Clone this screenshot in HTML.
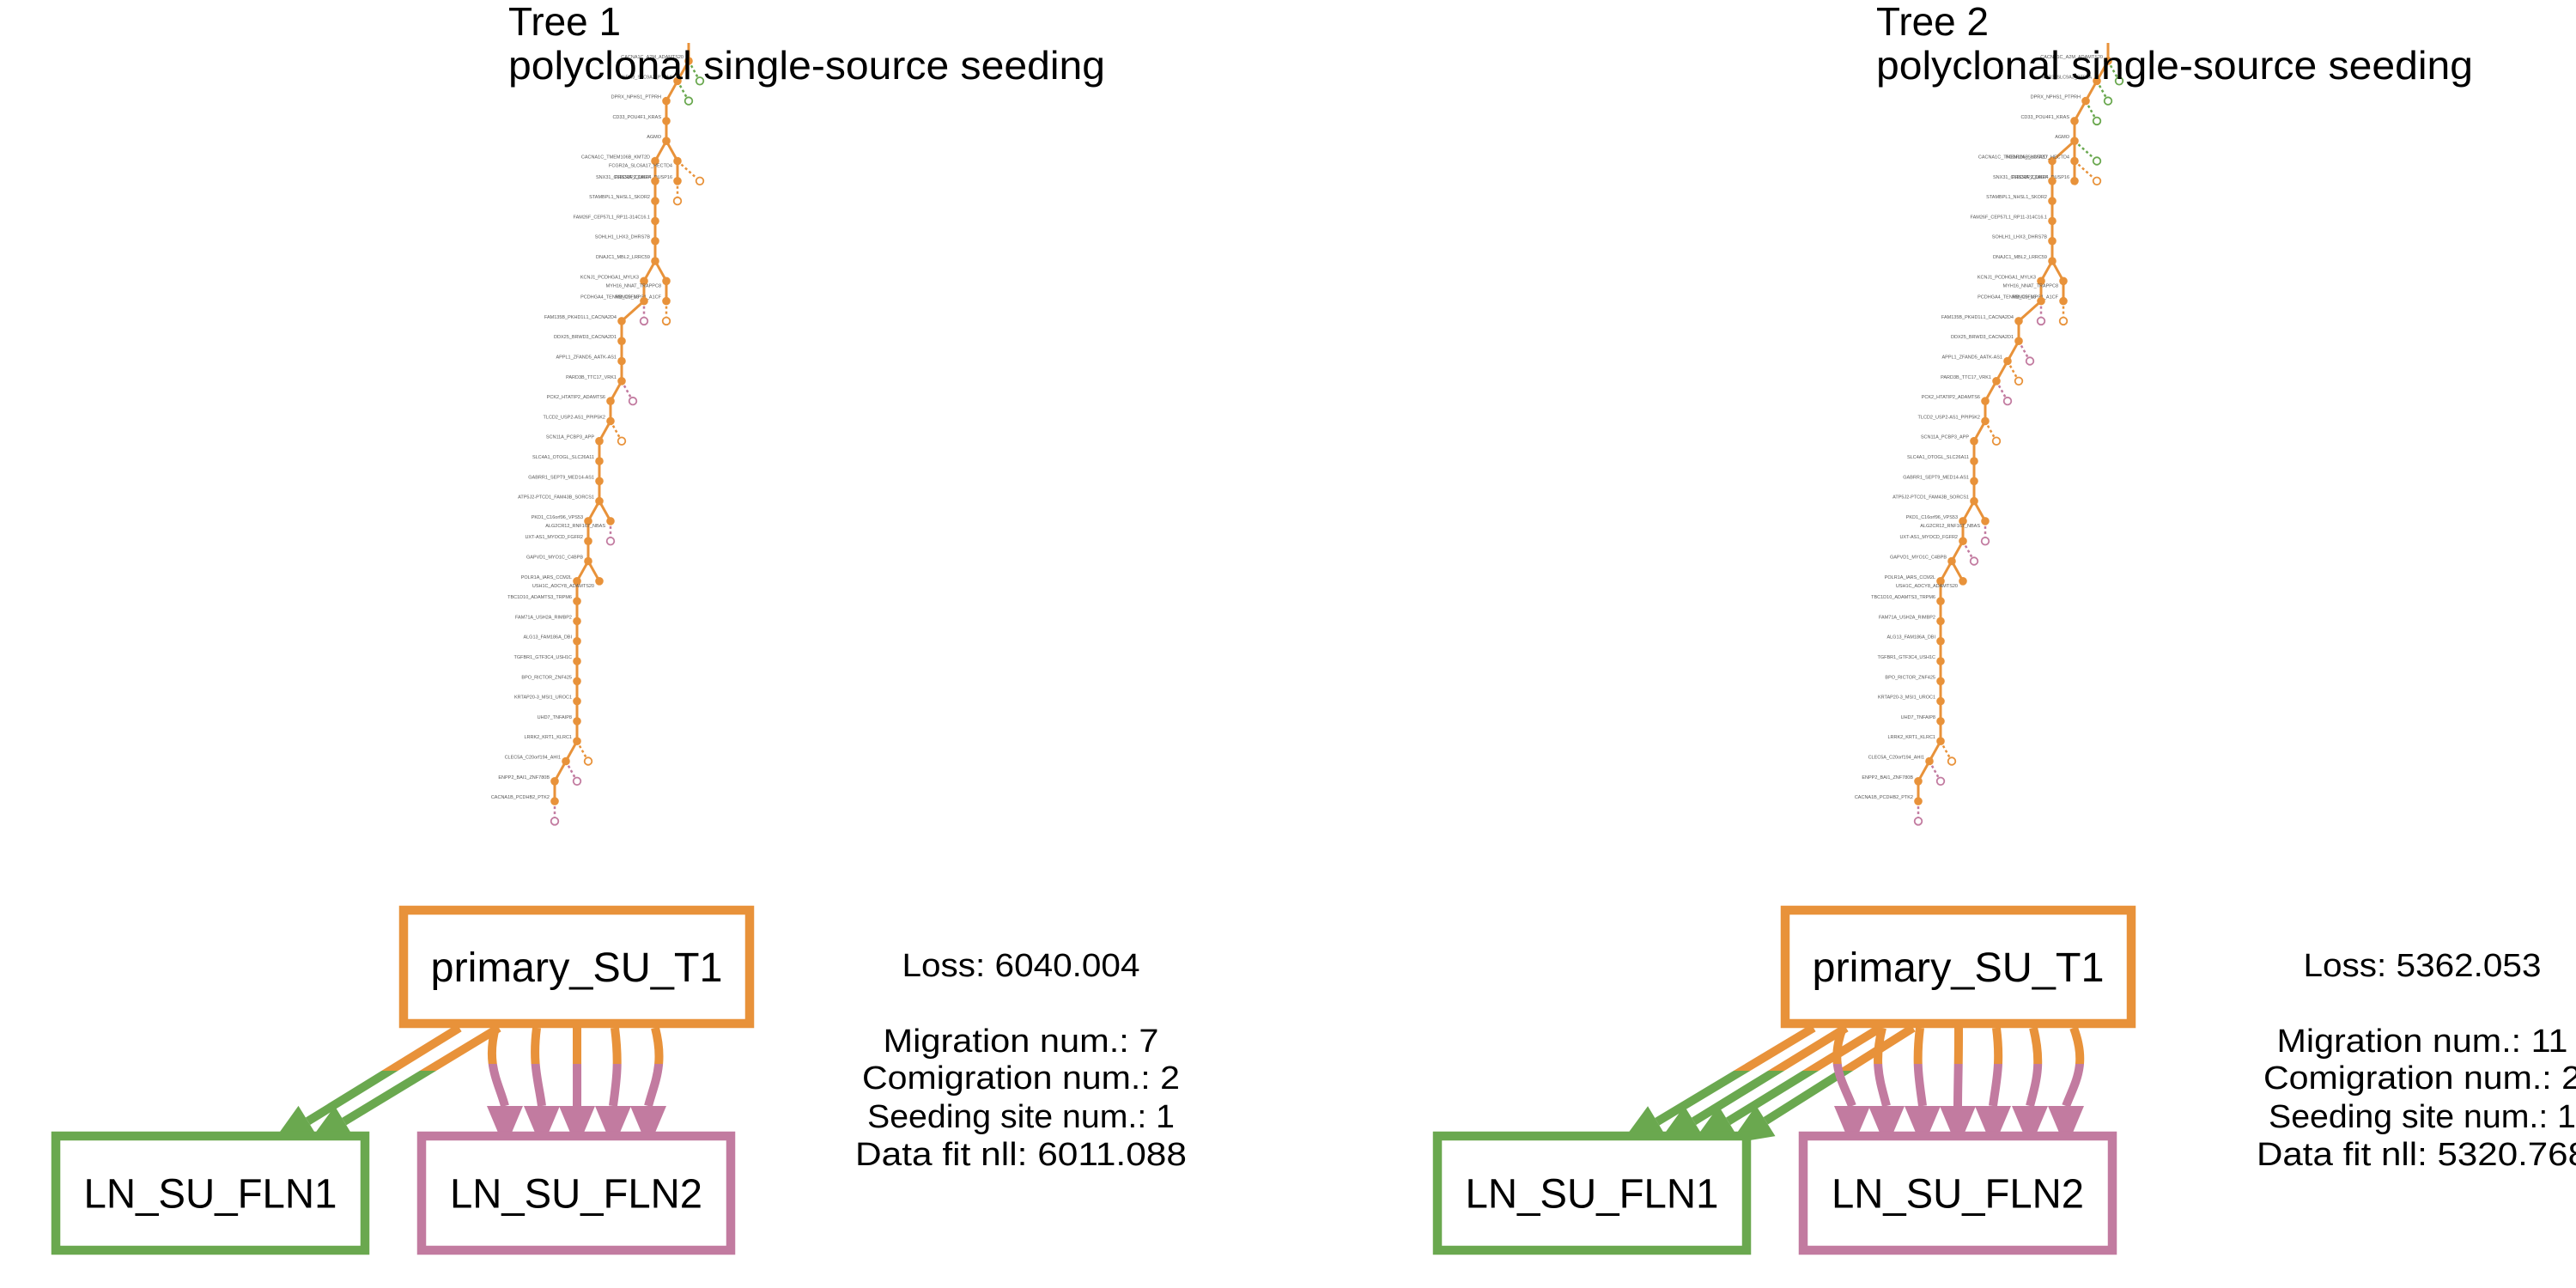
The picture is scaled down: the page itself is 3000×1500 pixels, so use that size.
<!DOCTYPE html>
<html><head><meta charset="utf-8">
<style>
html,body{margin:0;padding:0;background:#fff;}
svg{display:block;font-family:"Liberation Sans",sans-serif;}
</style></head>
<body>
<svg id="fig" width="3000" height="1500" viewBox="0 0 3000 1500" xmlns="http://www.w3.org/2000/svg">
<defs>
<clipPath id="clipTop1"><rect x="0" y="0" width="3000" height="1247"/></clipPath>
<clipPath id="clipBot1"><rect x="0" y="1247" width="3000" height="300"/></clipPath>
<clipPath id="clipTopP"><rect x="0" y="0" width="3000" height="1239"/></clipPath>
<clipPath id="clipBotP"><rect x="0" y="1239" width="3000" height="300"/></clipPath>
</defs>
<g id="tree1"></g>
<g id="tree2"></g>
</svg>
<script>
const ORANGE='#E8923A', GREEN='#6AA84F', PINK='#C27BA0';
const NS='http://www.w3.org/2000/svg';
const DX=13, DY=23.3, Y0=71;

// ---- tree data: [col, depth, parentIndex, type, label] ----
const tree1Nodes=[
[0,0,-1,'f','CACNA1C_A2M_ADAMTS20'],
[-1,1,0,'f','NPR3_SLC9A3_PTF1A'],
[1,1,0,'g',''],
[-2,2,1,'f','DPRX_NPHS1_PTPRH'],
[0,2,1,'g',''],
[-2,3,3,'f','CD33_POU4F1_KRAS'],
[-2,4,5,'f','AGMO'],
[-3,5,6,'f','CACNA1C_TMEM106B_KMT2D'],
[-1,5,6,'f','FCGR2A_SLC6A17_HECTD4'],
[-1,6,8,'f','PRSS3P2_UBR4_DUSP16'],
[1,6,8,'o',''],
[-1,7,9,'o',''],
[-3,6,7,'f','SNX31_CLEC4A_CDH17'],
[-3,7,12,'f','STAMBPL1_NHSL1_SKOR2'],
[-3,8,13,'f','FAM26F_CEP57L1_RP11-314C16.1'],
[-3,9,14,'f','SOHLH1_LHX3_DHRS7B'],
[-3,10,15,'f','DNAJC1_MBL2_LRRC59'],
[-4,11,16,'f','KCNJ1_PCDHGA1_MYLK3'],
[-2,11,16,'f','MYH16_NNAT_TRAPPC8'],
[-2,12,18,'f','RBM20_MPS1_A1CF'],
[-2,13,19,'o',''],
[-4,12,17,'f','PCDHGA4_TENM2_C5F18'],
[-4,13,21,'p',''],
[-6,13,21,'f','FAM135B_PKHD1L1_CACNA2D4'],
[-6,14,23,'f','DDX25_BRWD3_CACNA2D1'],
[-6,15,24,'f','APPL1_ZFAND5_AATK-AS1'],
[-6,16,25,'f','PARD3B_TTC17_VRK1'],
[-5,17,26,'p',''],
[-7,17,26,'f','PCK2_HTATIP2_ADAMTS6'],
[-7,18,28,'f','TLCD2_USP2-AS1_PPIP5K2'],
[-6,19,29,'o',''],
[-8,19,29,'f','SCN11A_PCBP3_APP'],
[-8,20,31,'f','SLC4A1_OTOGL_SLC26A11'],
[-8,21,32,'f','GABRR1_SEPT9_MED14-AS1'],
[-8,22,33,'f','ATP5J2-PTCD1_FAM43B_SORCS1'],
[-9,23,34,'f','PKD1_C16orf96_VPS53'],
[-7,23,34,'f','ALG2CR12_RNF167_NBAS'],
[-7,24,36,'p',''],
[-9,24,35,'f','UXT-AS1_MYOCD_FGFR2'],
[-9,25,38,'f','GAPVD1_MYO1C_C4BPB'],
[-10,26,39,'f','POLR1A_IARS_CCM2L'],
[-8,26,39,'f','USH1C_ADCY8_ADAMTS20'],
[-10,27,40,'f','TBC1D10_ADAMTS3_TRPM6'],
[-10,28,42,'f','FAM71A_USH2A_RIMBP2'],
[-10,29,43,'f','ALG13_FAM186A_DBI'],
[-10,30,44,'f','TGFBR1_GTF3C4_USH1C'],
[-10,31,45,'f','BPO_RICTOR_ZNF425'],
[-10,32,46,'f','KRTAP20-3_MSI1_UROC1'],
[-10,33,47,'f','UHD7_TNFAIP8'],
[-10,34,48,'f','LRRK2_KRT1_KLRC1'],
[-9,35,49,'o',''],
[-11,35,49,'f','CLEC5A_C20orf194_AHI1'],
[-10,36,51,'p',''],
[-12,36,51,'f','ENPP2_BAI1_ZNF780B'],
[-12,37,53,'f','CACNA1B_PCDHB2_PTK2'],
[-12,38,54,'p','']
];
const tree2Nodes=[
[0,0,-1,'f','CACNA1C_A2M_ADAMTS20'],
[-1,1,0,'f','NPR3_SLC9A3_PTF1A'],
[1,1,0,'g',''],
[-2,2,1,'f','DPRX_NPHS1_PTPRH'],
[0,2,1,'g',''],
[-3,3,3,'f','CD33_POU4F1_KRAS'],
[-1,3,3,'g',''],
[-3,4,5,'f','AGMO'],
[-5,5,7,'f','CACNA1C_TMEM106B_KMT2D'],
[-3,5,7,'f','FCGR2A_SLC6A17_HECTD4'],
[-1,5,7,'g',''],
[-3,6,9,'f','PRSS3P2_UBR4_DUSP16'],
[-1,6,9,'o',''],
[-5,6,8,'f','SNX31_CLEC4A_CDH17'],
[-5,7,13,'f','STAMBPL1_NHSL1_SKOR2'],
[-5,8,14,'f','FAM26F_CEP57L1_RP11-314C16.1'],
[-5,9,15,'f','SOHLH1_LHX3_DHRS7B'],
[-5,10,16,'f','DNAJC1_MBL2_LRRC59'],
[-6,11,17,'f','KCNJ1_PCDHGA1_MYLK3'],
[-4,11,17,'f','MYH16_NNAT_TRAPPC8'],
[-4,12,19,'f','RBM20_MPS1_A1CF'],
[-4,13,20,'o',''],
[-6,12,18,'f','PCDHGA4_TENM2_C5F18'],
[-6,13,22,'p',''],
[-8,13,22,'f','FAM135B_PKHD1L1_CACNA2D4'],
[-8,14,24,'f','DDX25_BRWD3_CACNA2D1'],
[-7,15,25,'p',''],
[-9,15,25,'f','APPL1_ZFAND5_AATK-AS1'],
[-8,16,27,'o',''],
[-10,16,27,'f','PARD3B_TTC17_VRK1'],
[-9,17,29,'p',''],
[-11,17,29,'f','PCK2_HTATIP2_ADAMTS6'],
[-11,18,31,'f','TLCD2_USP2-AS1_PPIP5K2'],
[-10,19,32,'o',''],
[-12,19,32,'f','SCN11A_PCBP3_APP'],
[-12,20,34,'f','SLC4A1_OTOGL_SLC26A11'],
[-12,21,35,'f','GABRR1_SEPT9_MED14-AS1'],
[-12,22,36,'f','ATP5J2-PTCD1_FAM43B_SORCS1'],
[-13,23,37,'f','PKD1_C16orf96_VPS53'],
[-11,23,37,'f','ALG2CR12_RNF167_NBAS'],
[-11,24,39,'p',''],
[-13,24,38,'f','UXT-AS1_MYOCD_FGFR2'],
[-12,25,41,'p',''],
[-14,25,41,'f','GAPVD1_MYO1C_C4BPB'],
[-15,26,43,'f','POLR1A_IARS_CCM2L'],
[-13,26,43,'f','USH1C_ADCY8_ADAMTS20'],
[-15,27,44,'f','TBC1D10_ADAMTS3_TRPM6'],
[-15,28,46,'f','FAM71A_USH2A_RIMBP2'],
[-15,29,47,'f','ALG13_FAM186A_DBI'],
[-15,30,48,'f','TGFBR1_GTF3C4_USH1C'],
[-15,31,49,'f','BPO_RICTOR_ZNF425'],
[-15,32,50,'f','KRTAP20-3_MSI1_UROC1'],
[-15,33,51,'f','UHD7_TNFAIP8'],
[-15,34,52,'f','LRRK2_KRT1_KLRC1'],
[-14,35,53,'o',''],
[-16,35,53,'f','CLEC5A_C20orf194_AHI1'],
[-15,36,55,'p',''],
[-17,36,55,'f','ENPP2_BAI1_ZNF780B'],
[-17,37,57,'f','CACNA1B_PCDHB2_PTK2'],
[-17,38,58,'p','']
];

// ---- migration graph data ----
const tree1GreenStart=[535,581];
const tree1GreenTip=[316,358];
const tree1PinkStart=[577,625,672,716,763];
const tree1PinkTip=[588,631,672,714,755];
const tree2GreenStart=[2112,2150,2190,2228];
const tree2GreenTip=[1887,1930,1970,2014];
const tree2PinkStart=[2146,2192,2236,2281,2325,2368,2415];
const tree2PinkTip=[2157,2197,2239,2280,2321,2364,2406];
const tree1Stats=['Loss: 6040.004','Migration num.: 7','Comigration num.: 2','Seeding site num.: 1','Data fit nll: 6011.088'];
const tree2Stats=['Loss: 5362.053','Migration num.: 11','Comigration num.: 2','Seeding site num.: 1','Data fit nll: 5320.768'];

function mk(tag,attrs,parent){const e=document.createElementNS(NS,tag);for(const k in attrs)e.setAttribute(k,attrs[k]);parent.appendChild(e);return e;}
const colorOf={f:ORANGE,o:ORANGE,g:GREEN,p:PINK};

function drawTree(g,nodes,x0){
  const px=n=>x0+n[0]*DX, py=n=>Y0+n[1]*DY;
  const eg=mk('g',{},g);
  
  
  const root=mk('line',{x1:x0,y1:Y0-21,x2:x0,y2:Y0,stroke:ORANGE,'stroke-width':3},eg);
  
  
  nodes.forEach(n=>{
    if(n[2]<0)return;
    const p=nodes[n[2]];
    const hollow=n[3]!=='f';
    const l=mk('line',{x1:px(p),y1:py(p),x2:px(n),y2:py(n),stroke:hollow?colorOf[n[3]]:ORANGE,'stroke-width':hollow?2.5:3},eg);
    if(hollow)l.setAttribute('stroke-dasharray','3,3');
    
    
  });
  nodes.forEach(n=>{
    const hollow=n[3]!=='f';
    const c=mk('circle',{cx:px(n),cy:py(n),r:hollow?4.3:4.8,fill:hollow?'#fff':ORANGE,stroke:colorOf[n[3]],'stroke-width':hollow?1.8:0},g);
    
    
    if(n[4]){
      const p=n[2]>=0?nodes[n[2]]:null;
      const right=p&&n[0]>p[0]&&nodes.some(m=>m[2]===n[2]&&m[0]<n[0]&&m[3]==='f');
      const t=mk('text',{x:px(n)-6,y:py(n)+(right?7:-3),'font-size':5.5,fill:'#555','text-anchor':'end'},g);
      t.textContent=n[4];
      
      
    }
  });
}

function box(g,x,y,w,h,color,label,tl,name){
  const r=mk('rect',{x:x,y:y,width:w,height:h,fill:'#fff',stroke:color,'stroke-width':10.5},g);
  
  
  const t=mk('text',{x:x+w/2,y:y+h/2+17,'font-size':48,'text-anchor':'middle',textLength:tl,lengthAdjust:'spacingAndGlyphs',fill:'#000'},g);
  t.textContent=label;
  
  
}

function arrowHead(g,bx,by,tx,ty,color){
  const dx=tx-bx,dy=ty-by,L=Math.hypot(dx,dy),ux=dx/L,uy=dy/L,w=21;
  const p=mk('polygon',{points:`${tx},${ty} ${bx-uy*w},${by+ux*w} ${bx+uy*w},${by-ux*w}`,fill:color},g);
  
  
}

function migration(g,gs,gt,ps,pt,cx){
  const Y1=1197, TIPG=1332, TIPP=1338, AL=50;
  gs.forEach((sx,i)=>{
    const tx=gt[i],dx=tx-sx,dy=TIPG-Y1,L=Math.hypot(dx,dy);
    const bx=tx-dx/L*AL, by=TIPG-dy/L*AL;
    const d=`M${sx},${Y1} L${bx},${by}`;
    const a=mk('path',{d:d,stroke:ORANGE,'stroke-width':10,fill:'none','clip-path':'url(#clipTop1)'},g);
    
    
    const b=mk('path',{d:d,stroke:GREEN,'stroke-width':10,fill:'none','clip-path':'url(#clipBot1)'},g);
    
    
    arrowHead(g,bx,by,tx,TIPG,GREEN);
  });
  ps.forEach((sx,i)=>{
    const tx=pt[i],by=TIPP-AL, ctrl=sx+(sx-cx)*0.12;
    const d=`M${sx},${Y1} C${ctrl},1240 ${tx+(sx-cx)*0.08},1260 ${tx},${by}`;
    const a=mk('path',{d:d,stroke:ORANGE,'stroke-width':10,fill:'none','clip-path':'url(#clipTopP)'},g);
    
    
    const b=mk('path',{d:d,stroke:PINK,'stroke-width':10,fill:'none','clip-path':'url(#clipBotP)'},g);
    
    
    arrowHead(g,tx,by,tx,TIPP,PINK);
  });
}

function stats(g,lines,cx){
  const ys=[1137,1225,1268,1313,1357], tl=[277,321,370,358,386];
  lines.forEach((s,i)=>{
    const t=mk('text',{x:cx,y:ys[i],'font-size':38,'text-anchor':'middle',textLength:tl[i]+(i===1&&s.length>17?18:0),lengthAdjust:'spacingAndGlyphs',fill:'#000'},g);
    t.textContent=s;
    
    
  });
}

function panel(g,tx,title,nodes,rootX,off,gs,gt,ps,pt,st,statX){
  const t1=mk('text',{x:tx,y:41,'font-size':46,textLength:131,lengthAdjust:'spacingAndGlyphs',fill:'#000'},g);
  t1.textContent=title;
  
  
  const tg=mk('g',{},g);
  
  
  drawTree(tg,nodes,rootX);
  const t2=mk('text',{x:tx,y:92,'font-size':46,textLength:695,lengthAdjust:'spacingAndGlyphs',fill:'#000'},g);
  t2.textContent='polyclonal single-source seeding';
  
  
  const mg=mk('g',{},g);
  
  
  migration(mg,gs,gt,ps,pt,671+off);
  box(mg,470+off,1060,403,132,ORANGE,'primary_SU_T1',340,'primary-site');
  box(mg,65+off,1323,360,133,GREEN,'LN_SU_FLN1',295,'ln-fln1');
  box(mg,491+off,1323,360,133,PINK,'LN_SU_FLN2',294,'ln-fln2');
  stats(g,st,statX);
}

panel(document.getElementById('tree1'),592,'Tree 1',tree1Nodes,802,0,tree1GreenStart,tree1GreenTip,tree1PinkStart,tree1PinkTip,tree1Stats,1189);
panel(document.getElementById('tree2'),2185,'Tree 2',tree2Nodes,2455,1609,tree2GreenStart,tree2GreenTip,tree2PinkStart,tree2PinkTip,tree2Stats,2821);
</script>
</body></html>
